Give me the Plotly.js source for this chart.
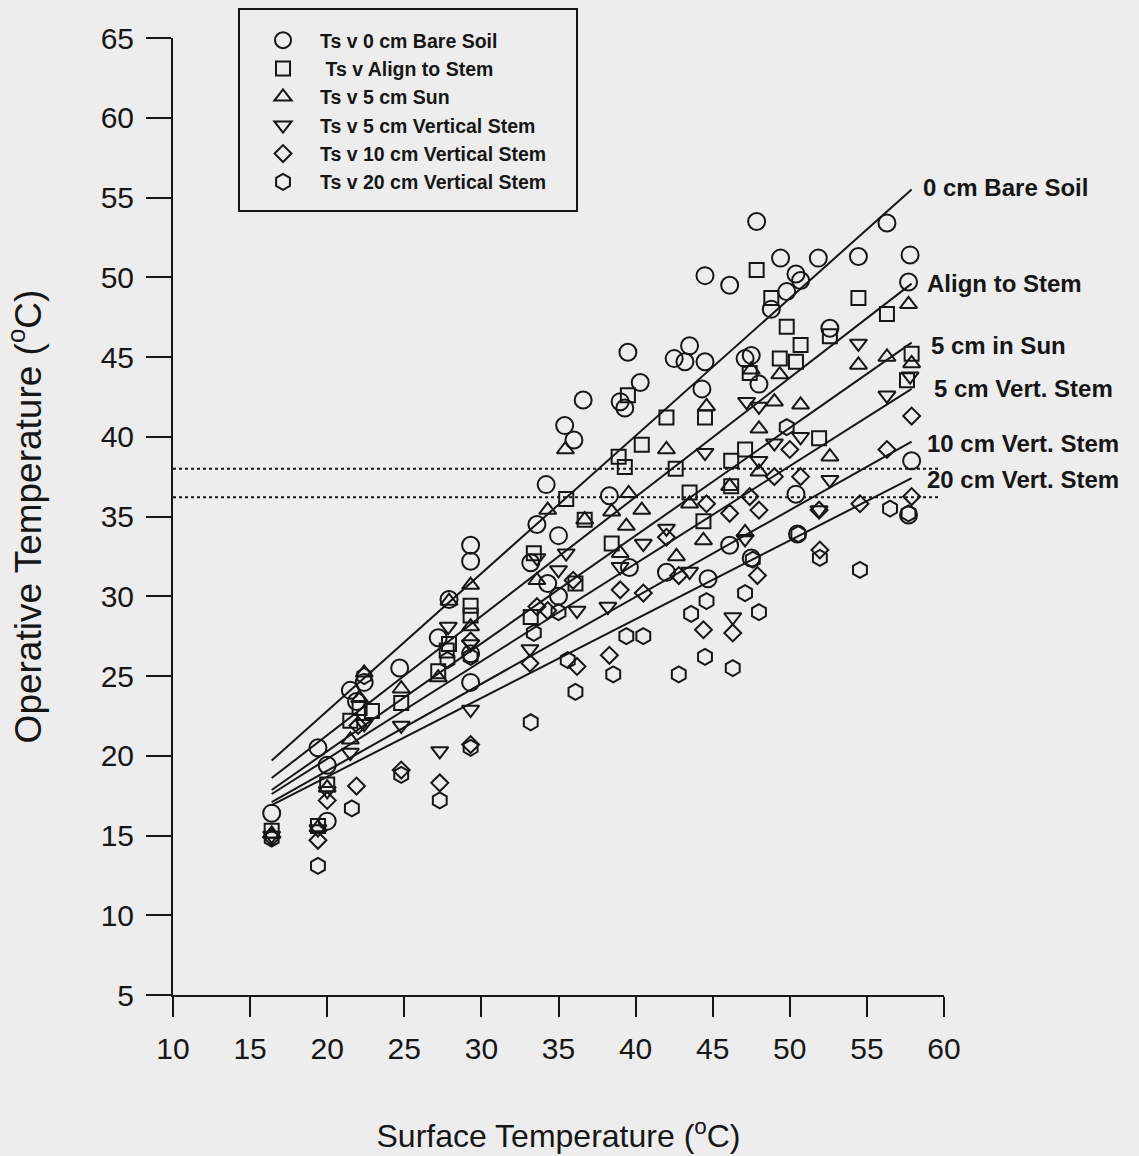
<!DOCTYPE html>
<html>
<head>
<meta charset="utf-8">
<script src="https://cdn.plot.ly/plotly-3.0.1.min.js"></script>
<style>html,body{margin:0;padding:0;background:#ededed;}#chart{width:1139px;height:1156px;}</style>
</head>
<body>
<div id="chart"></div>
<script>
// ---- data ----
const seriesNames = ["Ts v 0 cm Bare Soil", " Ts v Align to Stem", "Ts v 5 cm Sun", "Ts v 5 cm Vertical Stem", "Ts v 10 cm Vertical Stem", "Ts v 20 cm Vertical Stem"];

const bareSoilX = [16.4,19.4,20.0,20.0,21.5,21.9,22.4,24.7,27.2,27.9,29.3,29.3,29.3,29.3,33.2,33.6,34.2,34.3,35.0,35.0,35.4,36.0,36.6,38.3,39.0,39.3,39.5,40.3,39.6,42.0,42.5,43.2,43.5,44.3,44.5,44.5,44.7,46.1,46.1,47.1,47.5,47.5,47.85,48.0,48.8,49.4,49.8,50.4,50.7,50.4,50.5,51.85,52.6,54.45,56.3,57.7,57.8,57.9,57.7];
const bareSoilY = [16.4,20.5,19.4,15.9,24.1,23.4,24.6,25.5,27.4,29.8,33.2,32.2,26.4,24.6,32.1,34.5,37.0,30.8,33.8,30.0,40.7,39.8,42.3,36.3,42.2,41.8,45.3,43.4,31.8,31.5,44.9,44.7,45.7,43.0,50.1,44.7,31.1,33.2,49.5,44.9,45.1,32.4,53.5,43.3,48.0,51.2,49.1,50.2,49.8,36.4,33.9,51.2,46.8,51.3,53.4,49.7,51.4,38.5,35.1];

const alignX = [16.4,19.4,20.0,21.5,22.1,22.9,24.8,27.2,27.75,27.9,29.3,29.3,33.2,33.4,35.5,36.1,36.7,38.45,38.9,39.3,39.5,40.4,42.0,42.6,43.5,44.4,44.5,46.2,46.2,47.1,47.4,47.85,48.8,49.35,49.8,50.4,50.7,51.9,52.6,54.45,56.3,57.6,57.9];
const alignY = [15.3,15.6,18.2,22.2,23.0,22.8,23.3,25.3,26.6,27.0,29.4,28.8,28.7,32.7,36.1,30.8,34.8,33.3,38.75,38.1,42.6,39.5,41.2,38.0,36.5,34.7,41.2,36.9,38.5,39.2,44.0,50.45,48.7,44.9,46.9,44.7,45.75,39.9,46.3,48.7,47.7,43.55,45.2];

const sunX = [16.4,19.4,20.0,21.5,22.1,22.4,24.8,27.2,27.9,29.3,29.3,33.6,34.3,35.45,36.7,38.45,39.0,39.4,39.55,40.4,42.0,42.65,43.5,44.4,44.6,46.1,47.1,47.5,48.0,48.0,49.0,49.35,50.7,52.6,54.45,56.3,57.7,57.9];
const sunY = [15.1,15.5,18.0,21.0,23.6,25.2,24.2,24.9,29.7,30.7,28.1,31.0,35.4,39.2,34.8,35.3,32.7,34.4,36.45,35.4,39.2,32.5,35.8,33.5,41.9,36.9,34.0,44.2,40.5,37.8,42.2,43.9,42.0,38.75,44.5,45.0,48.3,44.6];

const vert5X = [16.4,19.4,20.0,21.5,22.4,24.8,27.3,27.85,29.3,29.3,33.15,33.6,35.0,35.5,36.2,38.2,39.0,40.5,42.0,43.5,44.5,46.3,47.1,47.2,48.0,48.0,49.0,50.7,51.9,52.6,54.45,56.3,57.8];
const vert5Y = [15.0,15.4,17.8,20.2,22.0,21.9,20.3,28.1,22.9,27.0,26.7,32.4,31.65,32.7,29.1,29.35,31.85,33.3,34.25,31.55,39.0,28.7,33.6,42.2,41.9,38.5,39.6,40.0,35.4,37.3,45.85,42.6,43.8];

const vert10X = [16.4,19.4,20.0,21.9,22.0,24.8,27.3,29.3,29.3,33.15,33.6,34.3,35.95,36.2,38.3,39.0,40.5,42.0,42.8,44.4,44.6,46.1,46.3,47.4,47.9,48.0,49.0,50.0,50.7,51.9,51.95,54.55,56.3,57.9,57.9];
const vert10Y = [14.9,14.7,17.2,18.1,21.9,19.1,18.3,20.7,27.2,25.8,29.35,29.1,31.0,25.6,26.3,30.4,30.2,33.7,31.3,27.9,35.8,35.2,27.7,36.25,31.3,35.4,37.5,39.2,37.5,35.4,32.9,35.8,39.2,41.3,36.25];

const vert20X = [16.4,19.4,21.6,22.4,24.8,27.3,27.8,29.3,29.3,33.2,33.4,35.0,35.6,36.1,38.55,39.4,40.5,42.8,43.6,44.5,44.6,46.3,47.1,47.6,48.0,49.8,50.55,51.95,54.55,56.5,57.7];
const vert20Y = [14.8,13.1,16.7,25.0,18.8,17.2,26.0,20.5,26.2,22.1,27.7,29.0,26.0,24.0,25.1,27.5,27.5,25.1,28.9,26.2,29.7,25.5,30.2,32.3,29.0,40.6,33.9,32.4,31.65,35.5,35.2];

// regression lines: start / end values
const fitX = [16.4, 57.9];
const fitStartY = [19.7, 18.6, 17.85, 17.6, 17.1, 16.9];
const fitEndY   = [55.5, 49.6, 45.9, 43.0, 39.7, 37.4];
const fitLabels = ["0 cm Bare Soil", "Align to Stem", "5 cm in Sun", "5 cm Vert. Stem", "10 cm Vert. Stem", "20 cm Vert. Stem"];
const fitLabelX = [58.5, 58.75, 59.05, 59.25, 58.75, 58.75];
const fitLabelY = [55.65, 49.6, 45.7, 43.0, 39.6, 37.35];

// dotted reference levels
const refX = [10, 59.8];
const refLevels = [38.0, 36.2];

const xTicks = [10,15,20,25,30,35,40,45,50,55,60];
const yTicks = [5,10,15,20,25,30,35,40,45,50,55,60,65];

// ---- build ----
const INK = '#161616';
const FONT = 'Arial, "Liberation Sans", sans-serif';
const xs = [bareSoilX, alignX, sunX, vert5X, vert10X, vert20X];
const ys = [bareSoilY, alignY, sunY, vert5Y, vert10Y, vert20Y];
const symbols = ['circle-open','square-open','triangle-up-open','triangle-down-open','diamond-open','hexagon-open'];
const sizes = [17, 14, 15, 15, 13, 16];

const traces = [];
for (let i = 0; i < 6; i++) {
  traces.push({
    x: fitX, y: [fitStartY[i], fitEndY[i]], mode: 'lines', type: 'scatter',
    line: {color: INK, width: 2}, showlegend: false, hoverinfo: 'skip', cliponaxis: false
  });
}
refLevels.forEach(v => traces.push({
  x: refX, y: [v, v], mode: 'lines', type: 'scatter',
  line: {color: INK, width: 2, dash: 'dot'}, showlegend: false, hoverinfo: 'skip'
}));
for (let i = 0; i < 6; i++) {
  traces.push({
    x: xs[i], y: ys[i], mode: 'markers', type: 'scatter', name: seriesNames[i],
    legendgroup: 'g' + i,
    marker: {symbol: symbols[i], size: sizes[i], color: INK, line: {color: INK, width: 2}},
    cliponaxis: false
  });
}

const annotations = fitLabels.map((t, i) => ({
  x: fitLabelX[i], y: fitLabelY[i], xref: 'x', yref: 'y', text: t, showarrow: false,
  xanchor: 'left', yanchor: 'middle', font: {family: FONT, size: 24, color: INK, weight: 'bold'}
}));

const layout = {
  width: 1139, height: 1156,
  margin: {l: 173, r: 195, t: 38, b: 161},
  paper_bgcolor: '#ededed', plot_bgcolor: '#ededed',
  font: {family: FONT, color: INK},
  showlegend: true,
  legend: {
    x: 0.0947, y: 1.0178, xanchor: 'left', yanchor: 'top',
    borderwidth: 0, bgcolor: 'rgba(0,0,0,0)',
    font: {family: FONT, size: 19.5, color: INK, weight: 'bold'},
    tracegroupgap: 0, itemsizing: 'trace', itemwidth: 64
  },
  shapes: [{
    type: 'rect', xref: 'paper', yref: 'paper',
    x0: 0.0856, x1: 0.524, y0: 0.8192, y1: 1.0303,
    line: {color: INK, width: 2}, fillcolor: 'rgba(0,0,0,0)'
  }],
  xaxis: {
    range: [10, 60], tickvals: xTicks, ticktext: xTicks.map(String),
    showline: true, linecolor: INK, linewidth: 2, mirror: false,
    ticks: 'outside', ticklen: 20, tickwidth: 2, tickcolor: INK,
    showgrid: false, zeroline: false,
    tickfont: {family: FONT, size: 30, color: INK}, ticklabelstandoff: 6,
    title: {text: 'Surface Temperature (<sup>o</sup>C)', font: {family: FONT, size: 32, color: INK}, standoff: 61}
  },
  yaxis: {
    range: [5, 65], tickvals: yTicks, ticktext: yTicks.map(String),
    showline: true, linecolor: INK, linewidth: 2,
    ticks: 'outside', ticklen: 25, tickwidth: 2, tickcolor: INK,
    showgrid: false, zeroline: false,
    tickfont: {family: FONT, size: 30, color: INK}, ticklabelstandoff: 6,
    title: {text: 'Operative Temperature (<sup>o</sup>C)', font: {family: FONT, size: 37, color: INK}, standoff: 48}
  },
  annotations: annotations
};

Plotly.newPlot('chart', traces, layout, {displayModeBar: false, staticPlot: true});
</script>
</body>
</html>
